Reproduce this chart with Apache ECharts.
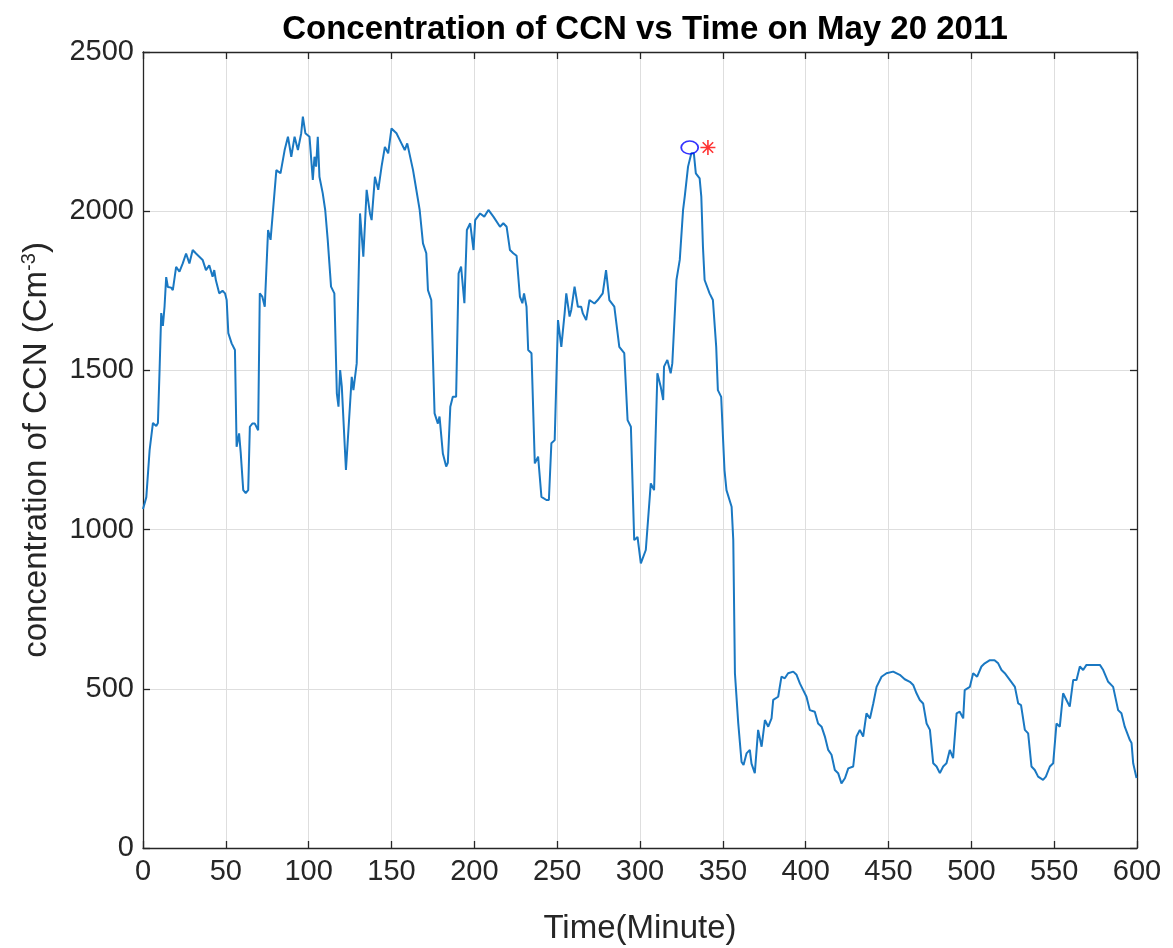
<!DOCTYPE html>
<html>
<head>
<meta charset="utf-8">
<title>Concentration of CCN vs Time on May 20 2011</title>
<script src="https://cdn.jsdelivr.net/npm/echarts@6/dist/echarts.min.js"></script>
<style>
  html, body { margin: 0; padding: 0; background: #ffffff; }
  #chart { width: 1173px; height: 948px; }
</style>
</head>
<body>
<div id="chart"></div>
<script>
// CCN record for 20 May 2011: time in minutes, concentration in cm^-3
const timeMin = [
  0, 1, 2, 4, 6, 8, 9, 10, 11, 12, 13, 14, 15, 17, 18, 20, 22, 24, 26, 28,
  30, 32, 34, 36, 38, 40, 42, 43, 44, 46, 48, 49.5, 50.5, 51.5, 53.5, 55.5, 56.5, 58, 59, 60.5,
  62, 63.5, 64.5, 66, 67.5, 69.5, 70.5, 72, 73.5, 75.5, 77, 80.5, 83, 85.5, 87.5, 89.5, 91.5, 93.5, 95.5, 96.5,
  98, 100.5, 102.5, 103.5, 104.5, 105.5, 106.5, 108.5, 110, 111.5, 113.5, 115.5, 117, 118, 119, 120, 122.5, 126, 127, 129,
  131, 133, 135, 137, 138, 140, 142, 144, 146, 148, 150, 153, 156, 158, 159.5, 163, 164, 167, 169, 171,
  172, 174, 176, 178, 179, 181, 183, 184, 185.5, 187, 189, 190.5, 192, 194, 195.5, 197.5, 199.5, 200.5, 203.5, 206,
  208.5, 211.5, 215.5, 217.5, 219.5, 221.5, 223.5, 225.5, 227.5, 229, 230, 231.5, 232.5, 234.5, 236.5, 238.5, 240.5, 243.5, 245, 246.5,
  248.5, 250.5, 252.5, 254.5, 255.5, 257.5, 258.5, 260.5, 262.5, 264.5, 265.5, 267.5, 269.5, 272.5, 274.5, 277.5, 279.5, 281.5, 284.5, 287.5,
  290.5, 292.5, 294.5, 296.5, 298.5, 300.5, 303.5, 306.5, 308.5, 310.5, 312.5, 314, 314.5, 316.5, 318.5, 319.5, 322, 324, 326, 327,
  329, 331, 332.5, 333.7, 336, 337, 338, 339, 342, 344, 346, 347, 349, 350, 351, 352.2, 355.3, 356.3, 357.3, 359.3,
  361.3, 362.5, 364.3, 366.3, 367.3, 369.3, 371.3, 373.4, 375.4, 377.4, 379.4, 380.4, 383.4, 385.4, 387.4, 389.4, 392.5, 394.5, 396.5, 398.5,
  400.5, 402.5, 405.5, 407.5, 409.6, 411.6, 413.6, 415.6, 417.6, 419.6, 421.6, 423.7, 425.7, 428.7, 430.7, 432.7, 434.7, 436.7, 438.8, 440.8,
  442.8, 445.8, 448.8, 452.8, 456.8, 459.8, 462.9, 464.9, 466.9, 468.9, 470.9, 473, 475, 477, 479, 481, 483, 485, 487, 489,
  491.1, 493, 495.1, 496, 499.1, 501.1, 503.5, 506.1, 508.1, 511.2, 514, 516.2, 518.2, 520.2, 523.2, 526.3, 528.3, 530, 532.3, 534.3,
  536.3, 538.3, 540.3, 543.3, 545, 547.4, 549.4, 551.4, 553.4, 555.4, 557.4, 559.4, 561.5, 563.5, 565.5, 567.5, 569.5, 573.5, 577.6, 579.6,
  582.6, 585.6, 588.6, 590.6, 592.6, 595.7, 596.7, 597.7, 599.7
];
const ccnConc = [
  1065, 1083, 1102, 1250, 1335, 1325, 1335, 1500, 1680, 1640, 1700, 1793, 1762, 1760, 1752, 1825, 1810, 1836, 1867, 1836,
  1878, 1867, 1857, 1847, 1815, 1830, 1794, 1815, 1783, 1742, 1750, 1742, 1721, 1617, 1585, 1564, 1260, 1302, 1240, 1124,
  1115, 1124, 1323, 1333, 1333, 1312, 1742, 1732, 1700, 1941, 1910, 2129, 2119, 2192, 2234, 2171, 2234, 2192, 2245, 2297,
  2245, 2234, 2098, 2171, 2140, 2234, 2108, 2056, 2003, 1910, 1763, 1742, 1428, 1386, 1501, 1449, 1187, 1480, 1438, 1522,
  1993, 1857, 2067, 1993, 1972, 2108, 2067, 2140, 2202, 2182, 2260, 2245, 2213, 2192, 2213, 2129, 2098, 2004, 1899, 1868,
  1752, 1721, 1365, 1333, 1355, 1239, 1198, 1210, 1386, 1417, 1417, 1805, 1826, 1711, 1941, 1962, 1878, 1972, 1993, 1983,
  2004, 1983, 1951, 1962, 1951, 1878, 1868, 1860, 1732, 1711, 1742, 1700, 1564, 1554, 1208, 1229, 1103, 1093, 1093, 1271,
  1281, 1658, 1574, 1679, 1742, 1669, 1690, 1763, 1700, 1700, 1679, 1658, 1721, 1710, 1721, 1742, 1815, 1721, 1700, 1574,
  1554, 1344, 1323, 967, 977, 894, 936, 1145, 1124, 1491, 1449, 1407, 1512, 1533, 1491, 1522, 1784, 1847, 2004, 2046,
  2140, 2182, 2182, 2119, 2103, 2046, 1888, 1784, 1742, 1721, 1574, 1438, 1417, 1300, 1187, 1124, 1072, 967, 549, 392,
  270, 261, 297, 308, 265, 235, 371, 318, 402, 381, 407, 465, 475, 538, 533, 549, 554, 544, 517, 496,
  475, 433, 428, 391, 381, 350, 308, 293, 245, 235, 203, 219, 250, 256, 350, 371, 350, 423, 407, 454,
  506, 538, 549, 554, 544, 530, 522, 512, 486, 465, 454, 391, 371, 266, 256, 235, 256, 266, 308, 282,
  423, 428, 407, 496, 506, 549, 538, 570, 580, 590, 590, 580, 559, 549, 528, 506, 454, 449, 371, 360,
  256, 245, 224, 214, 224, 256, 266, 391, 381, 486, 465, 444, 528, 528, 570, 559, 575, 575, 575, 559,
  522, 506, 433, 423, 381, 339, 330, 266, 220
];
// highlighted points near the final peak
const circlePoint = [330, 2200];
const starPoint = [341, 2200];

const xTicks = { min: 0, max: 600, step: 50 };
const yTicks = { min: 0, max: 2500, step: 500 };

const lineData = timeMin.map((t, i) => [t, ccnConc[i]]);

const FONT = '"Liberation Sans", Arial, Helvetica, sans-serif';
const INK = '#262626';
const GRID = '#dedede';

const chart = echarts.init(document.getElementById('chart'), null, { renderer: 'canvas' });

const baseAxis = {
  axisLine: { show: true, onZero: false, lineStyle: { color: INK, width: 1.3 } },
  axisTick: { show: true, inside: true, length: 7, lineStyle: { color: INK, width: 1.3 } },
  splitLine: { show: false },
  axisLabel: { show: false }
};

// plain integer tick text (no thousands separator)
const plain = v => String(v);

// path for a MATLAB-style asterisk: plus sign overlaid with a cross
const asteriskPath = 'path://M0,5L10,5M5,0L5,10M1.5,1.5L8.5,8.5M8.5,1.5L1.5,8.5';

chart.setOption({
  backgroundColor: '#ffffff',
  animation: false,
  title: {
    text: 'Concentration of CCN vs Time on May 20 2011',
    left: 640,
    textAlign: 'center',
    top: 8,
    textStyle: { fontFamily: FONT, fontSize: 33, fontWeight: 'bold', color: '#000000' }
  },
  grid: {
    left: 143, right: 36, top: 52, bottom: 100,
    containLabel: false,
    outerBoundsMode: 'none'
  },
  xAxis: [
    Object.assign({}, baseAxis, {
      type: 'value', position: 'bottom',
      min: xTicks.min, max: xTicks.max, interval: xTicks.step,
      splitLine: { show: true, lineStyle: { color: GRID, width: 1 } },
      axisLabel: { show: true, margin: 9, fontFamily: FONT, fontSize: 29, color: INK, formatter: plain },
      name: 'Time(Minute)',
      nameLocation: 'middle',
      nameGap: 64,
      nameTextStyle: { fontFamily: FONT, fontSize: 33, color: INK }
    }),
    Object.assign({}, baseAxis, {
      type: 'value', position: 'top',
      min: xTicks.min, max: xTicks.max, interval: xTicks.step
    })
  ],
  yAxis: [
    Object.assign({}, baseAxis, {
      type: 'value', position: 'left',
      min: yTicks.min, max: yTicks.max, interval: yTicks.step,
      splitLine: { show: true, lineStyle: { color: GRID, width: 1 } },
      axisLabel: { show: true, margin: 9, fontFamily: FONT, fontSize: 29, color: INK, formatter: plain },
      name: 'concentration of CCN (Cm{sup|-3})',
      nameLocation: 'middle',
      nameGap: 88,
      nameTextStyle: {
        fontFamily: FONT, fontSize: 33, color: INK,
        rich: {
          sup: { fontFamily: FONT, fontSize: 20, color: INK, verticalAlign: 'top', padding: [0, 0, 16, 0] }
        }
      }
    }),
    Object.assign({}, baseAxis, {
      type: 'value', position: 'right',
      min: yTicks.min, max: yTicks.max, interval: yTicks.step
    })
  ],
  series: [
    {
      type: 'line',
      data: lineData,
      xAxisIndex: 0, yAxisIndex: 0,
      showSymbol: false,
      symbol: 'none',
      lineStyle: { color: '#1a78c2', width: 2 },
      z: 2
    },
    {
      type: 'scatter',
      data: [circlePoint],
      symbol: 'circle',
      symbolSize: [17, 13],
      itemStyle: { color: 'rgba(0,0,0,0)', borderColor: '#0000FF', borderWidth: 1.6 },
      z: 3
    },
    {
      type: 'scatter',
      data: [starPoint],
      symbol: asteriskPath,
      symbolSize: 15,
      itemStyle: { color: 'rgba(0,0,0,0)', borderColor: '#FF0000', borderWidth: 1.6 },
      z: 3
    }
  ]
});
</script>
</body>
</html>
